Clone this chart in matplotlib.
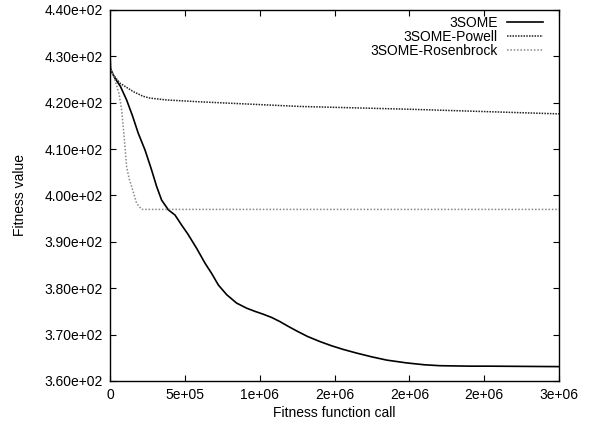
import matplotlib
matplotlib.use("Agg")
import matplotlib.pyplot as plt
from matplotlib.ticker import FuncFormatter

plt.rcParams['font.family'] = ['Liberation Sans', 'DejaVu Sans']

# 3SOME (solid)
x_3some = [0, 3000, 10000, 33000, 70000, 111000, 150000, 189000, 234000, 275000, 312000,
           345000, 390000, 434000, 479000, 520000, 579000, 635000, 679000, 724000, 780000,
           846000, 913000, 970000, 1024000, 1080000, 1136000, 1190000, 1247000, 1320000,
           1403000, 1480000, 1559000, 1650000, 1750000, 1850000, 1982000, 2100000,
           2204000, 2400000, 2538000, 3000000]
y_3some = [431.4, 427.5, 426.8, 425.3, 423.5, 420.6, 417.2, 413.4, 409.8, 405.8, 401.9,
           399.0, 396.9, 395.8, 393.6, 391.7, 388.6, 385.4, 383.2, 380.7, 378.6,
           376.8, 375.7, 375.0, 374.4, 373.7, 372.8, 371.8, 370.8, 369.6,
           368.5, 367.6, 366.8, 366.0, 365.2, 364.5, 363.9, 363.5,
           363.3, 363.2, 363.2, 363.1]

# 3SOME-Powell
x_powell = [0, 3000, 22000, 67000, 156000, 220000, 267000, 379000, 601000, 1269000, 2000000, 3000000]
y_powell = [431.4, 427.5, 426.0, 424.2, 422.4, 421.4, 421.0, 420.6, 420.2, 419.2, 418.6, 417.6]

# 3SOME-Rosenbrock
x_rosen = [0, 3000, 33000, 60000, 78000, 95000, 111000, 128000, 145000, 178000, 212000, 3000000]
y_rosen = [431.4, 427.5, 424.9, 422.0, 418.4, 412.5, 406.2, 403.6, 401.9, 398.3, 397.0, 397.0]

x_ticks = [0, 500000, 1000000, 1500000, 2000000, 2500000, 3000000]
x_tick_labels = ["0", "5e+05", "1e+06", "2e+06", "2e+06", "2e+06", "3e+06"]
y_ticks = [360, 370, 380, 390, 400, 410, 420, 430, 440]

fig = plt.figure(figsize=(5.92, 4.30), dpi=100)
ax = fig.add_axes([110/592, 1-381/430, (559-110)/592, (381-10)/430])

ax.plot(x_3some, y_3some, color='black', lw=1.2, label='3SOME')
ax.plot(x_powell, y_powell, color='#222222', lw=1.1, linestyle=(0, (1, 0.8)), label='3SOME-Powell')
ax.plot(x_rosen, y_rosen, color='#888888', lw=1.1, linestyle=(0, (1, 1.2)), label='3SOME-Rosenbrock')

ax.set_xlim(0, 3000000)
ax.set_ylim(360, 440)
ax.set_xticks(x_ticks)
ax.set_xticklabels(x_tick_labels)
ax.set_yticks(y_ticks)
ax.yaxis.set_major_formatter(FuncFormatter(lambda v, p: "%.2e" % v))
ax.tick_params(direction='in', top=True, right=True, labelsize=10, length=4, width=0.8, pad=5)
for s in ax.spines.values():
    s.set_linewidth(1.0)

ax.set_xlabel('Fitness function call', fontsize=10, labelpad=3)
ax.set_ylabel('Fitness value', fontsize=10, labelpad=13)

leg = ax.legend(loc='upper right', frameon=False, markerfirst=False, fontsize=10,
                handlelength=2.6, handletextpad=0.65, labelspacing=0.0,
                borderaxespad=0.0, bbox_to_anchor=(0.977, 1.0))
for t in leg.get_texts():
    t.set_ha('right')
leg._legend_box.align = 'right'

fig.savefig('out.png', dpi=100)
